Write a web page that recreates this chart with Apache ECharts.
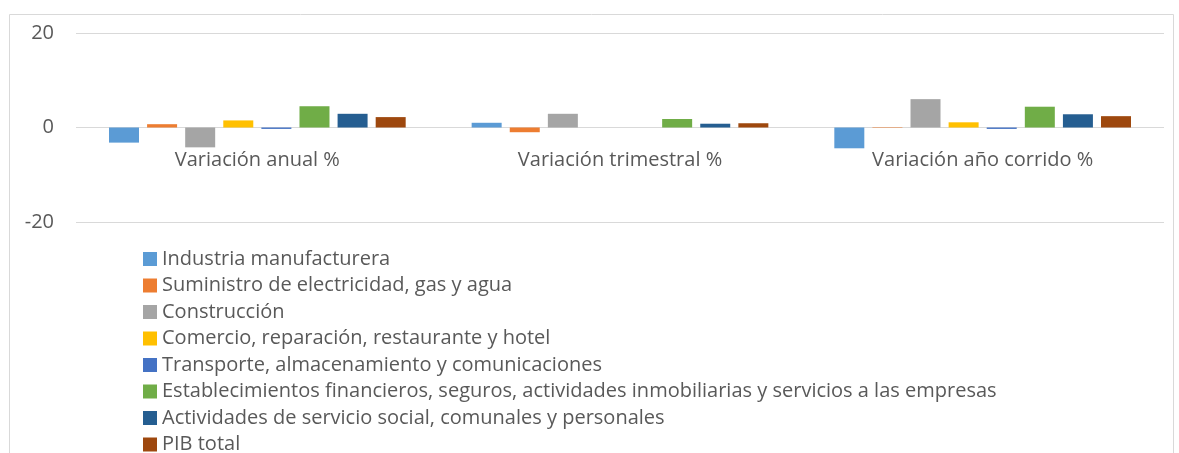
<!DOCTYPE html>
<html>
<head>
<meta charset="utf-8">
<script src="https://cdn.jsdelivr.net/npm/echarts@6/dist/echarts.min.js"></script>
<style>
  html, body { margin: 0; padding: 0; background: #fff; }
  #chart { width: 1179px; height: 453px; }
</style>
</head>
<body>
<div id="chart"></div>
<script>
// categories on the x axis
var categories = ['Variación anual %', 'Variación trimestral %', 'Variación año corrido %']

// one array per sector
var industria = [-3.2, 1.0, -4.4]
var suministro = [0.7, -1.0, 0.1]
var construccion = [-4.2, 2.9, 6.0]
var comercio = [1.5, 0.0, 1.1]
var transporte = [-0.3, 0.0, -0.3]
var establecimientos = [4.5, 1.8, 4.4]
var actividades = [2.9, 0.8, 2.8]
var pibTotal = [2.2, 0.9, 2.4]

var seriesNames = [
  'Industria manufacturera',
  'Suministro de electricidad, gas y agua',
  'Construcción',
  'Comercio, reparación, restaurante y hotel',
  'Transporte, almacenamiento y comunicaciones',
  'Establecimientos financieros, seguros, actividades inmobiliarias y servicios a las empresas',
  'Actividades de servicio social, comunales y personales',
  'PIB total'
]
var seriesValues = [industria, suministro, construccion, comercio, transporte, establecimientos, actividades, pibTotal]
var colors = ['#5B9BD5', '#ED7D31', '#A5A5A5', '#FFC000', '#4472C4', '#70AD47', '#255E91', '#9E480E']

var fontFamily = '"Open Sans", sans-serif'

var chart = echarts.init(document.getElementById('chart'))
chart.setOption({
  animation: false,
  color: colors,
  textStyle: { fontFamily: fontFamily },
  graphic: [{
    type: 'rect',
    shape: { x: 9.5, y: 14.5, width: 1164, height: 500 },
    style: { fill: 'none', stroke: '#d9d9d9', lineWidth: 1 },
    silent: true
  }],
  grid: {
    left: 76,
    right: 15,
    top: 33,
    bottom: 231
  },
  legend: {
    orient: 'vertical',
    left: 143,
    top: 249,
    height: 400,
    padding: 0,
    itemWidth: 14,
    itemHeight: 14,
    itemGap: 6.5,
    icon: 'rect',
    data: seriesNames,
    textStyle: { color: '#595959', fontSize: 20, fontFamily: fontFamily }
  },
  xAxis: {
    type: 'category',
    data: categories,
    offset: -94.5,
    axisLine: { show: false },
    axisTick: { show: false },
    axisLabel: { color: '#595959', fontSize: 20, margin: 23, fontFamily: fontFamily }
  },
  yAxis: {
    type: 'value',
    min: -20,
    max: 20,
    interval: 20,
    axisLine: { show: false },
    axisTick: { show: false },
    splitLine: { lineStyle: { color: '#d9d9d9' } },
    axisLabel: { color: '#595959', fontSize: 20, margin: 22, fontFamily: fontFamily }
  },
  series: seriesNames.map(function (name, i) {
    return {
      name: name,
      type: 'bar',
      data: seriesValues[i],
      barWidth: 30,
      barGap: '27%'
    }
  })
})
</script>
</body>
</html>
